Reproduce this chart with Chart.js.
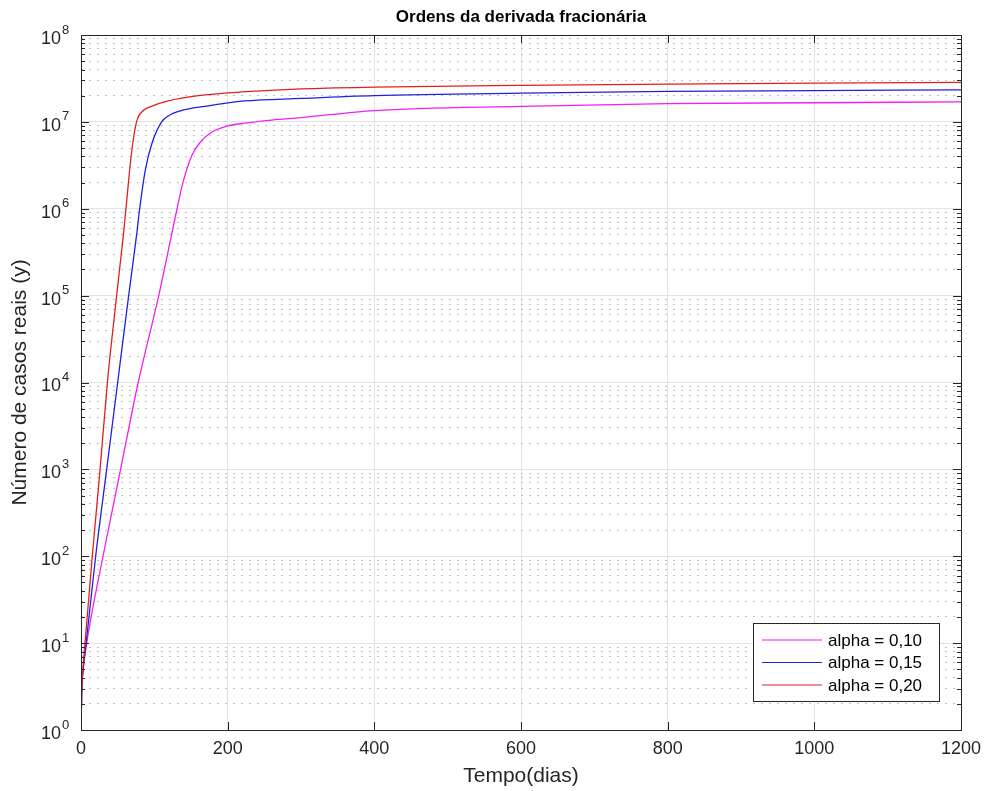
<!DOCTYPE html>
<html>
<head>
<meta charset="utf-8">
<title>Ordens da derivada fracionária</title>
<script src="https://cdn.jsdelivr.net/npm/chart.js@4.4.0/dist/chart.umd.min.js"></script>
<style>
  html, body { margin: 0; padding: 0; background: #fff; }
  #wrap { width: 986px; height: 791px; }
</style>
</head>
<body>
<div id="wrap"><canvas id="myChart"></canvas></div>
<script>
const FONT = '"Liberation Sans", Arial, Helvetica, sans-serif';
const TXT = '#262626';

const seriesNames = ['alpha = 0,10', 'alpha = 0,15', 'alpha = 0,20'];
const seriesColors = ['#f020f0', '#2020e0', '#e02020'];

// alpha = 0,10 (magenta)
const diasA10 = [0, 1, 3, 7.7, 30, 54, 78, 106, 131, 139, 151, 162, 178, 198.5, 223, 260, 300, 400, 600, 800, 1000, 1200];
const casosA10 = [1, 2.8, 5, 10, 100, 1000, 1e4, 1e5, 1e6, 2.0e6, 4.07e6, 5.75e6, 7.59e6, 8.91e6, 9.66e6, 1.05e7, 1.12e7, 1.35e7, 1.51e7, 1.62e7, 1.66e7, 1.70e7];

// alpha = 0,15 (blue)
const diasA15 = [0, 1, 3, 7, 20, 35, 50, 65, 75.7, 80, 88, 97, 110, 119, 137, 169, 223, 300, 400, 600, 800, 1000, 1200];
const casosA15 = [1, 2.8, 5, 10, 100, 1000, 1e4, 1e5, 4.9e5, 1e6, 2.88e6, 5.75e6, 1e7, 1.17e7, 1.35e7, 1.51e7, 1.74e7, 1.86e7, 2.0e7, 2.14e7, 2.24e7, 2.29e7, 2.34e7];

// alpha = 0,20 (red)
const diasA20 = [0, 1, 3, 5.5, 15.4, 26, 36, 48.6, 57.7, 61.3, 69, 75.7, 85, 96, 119, 160, 219, 300, 400, 600, 800, 1000, 1200];
const casosA20 = [1, 2.8, 5.6, 10, 100, 1000, 1e4, 1e5, 4.9e5, 1e6, 4.47e6, 1e7, 1.35e7, 1.51e7, 1.74e7, 2.0e7, 2.21e7, 2.4e7, 2.51e7, 2.63e7, 2.72e7, 2.79e7, 2.85e7];

const xTicks = [0, 200, 400, 600, 800, 1000, 1200];
const yDecades = [1, 1e1, 1e2, 1e3, 1e4, 1e5, 1e6, 1e7, 1e8];
const yExponents = ['0', '1', '2', '3', '4', '5', '6', '7', '8'];
const minorSteps = [2, 3, 4, 5, 6, 7, 8, 9];

const yMinors = [];
yDecades.slice(0, -1).forEach(d => minorSteps.forEach(m => yMinors.push(m * d)));

function toPoints(xs, ys) {
    return xs.map((x, i) => ({x: x, y: ys[i]}));
}

const allDias = [diasA10, diasA15, diasA20];
const allCasos = [casosA10, casosA15, casosA20];

const datasets = seriesNames.map((name, i) => ({
    label: name,
    data: toPoints(allDias[i], allCasos[i]),
    borderColor: seriesColors[i],
    backgroundColor: seriesColors[i],
    borderWidth: 1.3,
    pointRadius: 0,
    cubicInterpolationMode: 'monotone',
    fill: false,
    order: seriesNames.length - i
}));

// box, inner tick marks, superscript y labels and legend
const axesDecor = {
    id: 'axesDecor',
    afterDatasetsDraw(chart) {
        const ctx = chart.ctx;
        const a = chart.chartArea;
        const xs = chart.scales.x;
        const ys = chart.scales.y;
        ctx.save();
        ctx.strokeStyle = TXT;
        ctx.lineWidth = 1;
        ctx.beginPath();
        yDecades.forEach(v => {
            const py = Math.round(ys.getPixelForValue(v)) + 0.5;
            ctx.moveTo(a.left, py); ctx.lineTo(a.left + 8, py);
            ctx.moveTo(a.right, py); ctx.lineTo(a.right - 8, py);
        });
        yMinors.forEach(v => {
            const py = Math.round(ys.getPixelForValue(v)) + 0.5;
            ctx.moveTo(a.left, py); ctx.lineTo(a.left + 4, py);
            ctx.moveTo(a.right, py); ctx.lineTo(a.right - 4, py);
        });
        xTicks.forEach(v => {
            const px = Math.round(xs.getPixelForValue(v)) + 0.5;
            ctx.moveTo(px, a.bottom); ctx.lineTo(px, a.bottom - 8);
            ctx.moveTo(px, a.top); ctx.lineTo(px, a.top + 8);
        });
        ctx.stroke();
        ctx.strokeRect(Math.round(a.left) + 0.5, Math.round(a.top) + 0.5,
                       Math.round(a.right - a.left), Math.round(a.bottom - a.top));

        // y tick labels as 10 with superscript
        ctx.fillStyle = TXT;
        ctx.textBaseline = 'middle';
        yDecades.forEach((v, i) => {
            const py = ys.getPixelForValue(v);
            ctx.font = '18px ' + FONT;
            ctx.textAlign = 'right';
            ctx.fillText('10', a.left - 20, py + 4);
            ctx.font = '13px ' + FONT;
            ctx.textAlign = 'left';
            ctx.fillText(yExponents[i], a.left - 19, py - 5);
        });

        // legend in the lower right corner
        const lx = a.right - 208, ly = a.bottom - 107, lw = 186, lh = 78;
        ctx.fillStyle = '#fff';
        ctx.fillRect(lx, ly, lw, lh);
        ctx.strokeStyle = TXT;
        ctx.strokeRect(lx + 0.5, ly + 0.5, lw, lh);
        ctx.font = '17px ' + FONT;
        ctx.textAlign = 'left';
        chart.data.datasets.forEach((ds, i) => {
            const ry = ly + 17 + i * 22.5;
            ctx.strokeStyle = ds.borderColor;
            ctx.lineWidth = 1.2;
            ctx.beginPath();
            ctx.moveTo(lx + 9, ry); ctx.lineTo(lx + 69, ry);
            ctx.stroke();
            ctx.fillStyle = '#000';
            ctx.fillText(ds.label, lx + 75, ry + 1);
        });
        ctx.restore();
    }
};

const ctx = document.getElementById('myChart');

new Chart(ctx, {
    type: 'line',
    data: { datasets: datasets },
    options: {
        responsive: true,
        maintainAspectRatio: false,
        animation: false,
        layout: { padding: { left: 0, right: 25, top: 0, bottom: 0 } },
        plugins: {
            legend: { display: false },
            tooltip: { enabled: false },
            title: {
                display: true,
                fullSize: false,
                text: 'Ordens da derivada fracionária',
                color: '#000',
                font: { family: FONT, size: 17, weight: 'bold' },
                padding: { top: 7, bottom: 7.6 }
            }
        },
        scales: {
            x: {
                type: 'linear',
                min: 0,
                max: 1200,
                afterBuildTicks: s => { s.ticks = xTicks.map(v => ({value: v})); },
                ticks: {
                    color: TXT,
                    font: { family: FONT, size: 18 },
                    padding: 8,
                    maxRotation: 0,
                    callback: v => String(v)
                },
                grid: { color: '#e3e3e3', drawTicks: false },
                border: { color: TXT },
                title: {
                    display: true,
                    text: 'Tempo(dias)',
                    color: TXT,
                    font: { family: FONT, size: 21 },
                    padding: { top: 0, bottom: 2 }
                },
                afterFit: s => { s.height = 61; s.paddingLeft = 0; s.paddingRight = 0; }
            },
            y: {
                type: 'logarithmic',
                min: 1,
                max: 1e8,
                afterBuildTicks: s => { s.ticks = yDecades.map(v => ({value: v})); },
                ticks: { display: false },
                grid: { color: '#e3e3e3', drawTicks: false },
                border: { color: TXT },
                title: {
                    display: true,
                    text: 'Número de casos reais (y)',
                    color: TXT,
                    font: { family: FONT, size: 21 },
                    padding: { top: 8, bottom: 0 }
                },
                afterFit: s => { s.width = 81; }
            },
            yMinor: {
                type: 'logarithmic',
                position: 'left',
                min: 1,
                max: 1e8,
                afterBuildTicks: s => { s.ticks = yMinors.map(v => ({value: v})); },
                ticks: { display: false },
                grid: { color: '#c2c2c2', drawTicks: false },
                border: { display: false, dash: [2, 6] },
                afterFit: s => { s.width = 0; }
            }
        }
    },
    plugins: [axesDecor]
});
</script>
</body>
</html>
